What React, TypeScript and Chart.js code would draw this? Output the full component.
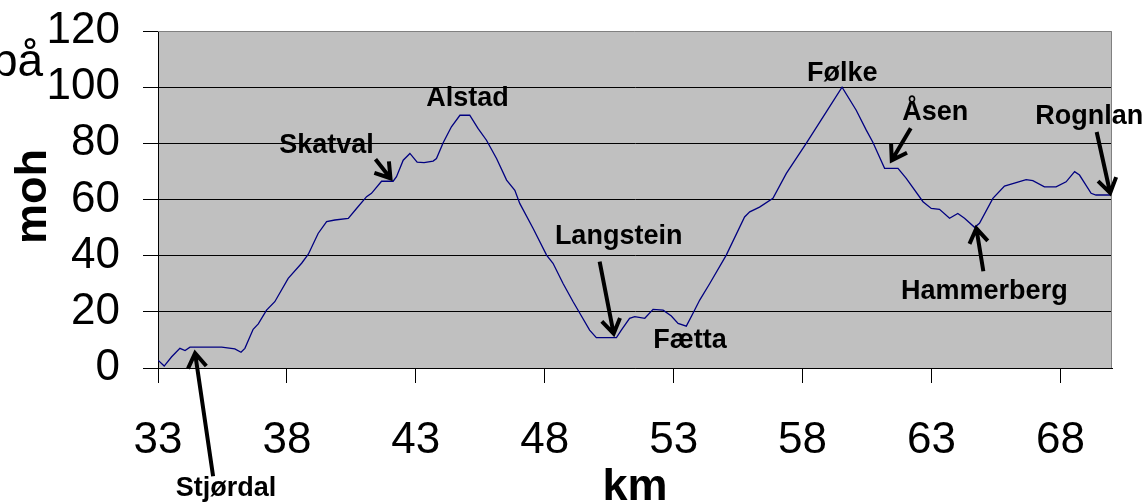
import React, { useEffect, useRef } from "react";
import { Chart, registerables } from "chart.js";

Chart.register(...registerables);

// Elevation profile along the route: distance (km) and height above sea level (moh)
const kmPoints = [
  33.0, 33.24, 33.53, 33.85, 34.05, 34.24, 35.47, 35.98, 36.22, 36.37,
  36.69, 36.89, 37.21, 37.53, 38.05, 38.57, 38.83, 39.21, 39.54, 39.86,
  40.38, 40.7, 41.09, 41.28, 41.67, 42.12, 42.25, 42.51, 42.77, 43.05,
  43.32, 43.67, 43.8, 44.06, 44.38, 44.71, 45.09, 45.41, 45.74, 46.13,
  46.52, 46.84, 47.03, 47.55, 48.07, 48.32, 48.71, 49.1, 49.36, 49.74,
  50.0, 50.78, 50.97, 51.29, 51.49, 51.88, 52.2, 52.59, 52.91, 53.17,
  53.49, 53.75, 54.01, 54.4, 55.04, 55.75, 55.95, 56.33, 56.85, 57.37,
  58.14, 58.92, 59.53, 60.08, 60.47, 60.72, 61.18, 61.7, 62.02, 62.67,
  62.99, 63.31, 63.7, 64.02, 64.28, 64.67, 64.86, 65.38, 65.83, 66.67,
  66.93, 67.38, 67.83, 68.22, 68.55, 68.74, 69.19, 69.38, 69.96,
];
const elevation = [
  2.8, 0.7, 4.0, 7.0, 6.2, 7.4, 7.4, 6.8, 5.6, 7.0,
  13.8, 15.7, 20.6, 23.6, 31.9, 37.3, 40.5, 47.9, 52.1, 52.7,
  53.3, 56.8, 61.0, 62.2, 66.5, 66.5, 68.1, 74.0, 76.4, 73.3,
  73.1, 73.7, 74.6, 80.2, 85.9, 90.0, 90.0, 85.3, 81.1, 74.6,
  66.9, 63.3, 58.6, 49.7, 40.2, 37.3, 30.1, 23.6, 19.5, 13.5,
  10.8, 10.8, 13.5, 17.7, 18.3, 17.7, 20.9, 20.6, 18.5, 15.9,
  14.9, 19.5, 24.2, 30.1, 40.2, 53.8, 55.6, 57.3, 60.4, 69.3,
  80.0, 91.2, 100.0, 91.8, 84.7, 80.5, 71.1, 71.1, 67.5, 59.2,
  56.8, 56.5, 53.3, 55.0, 53.3, 50.1, 51.5, 60.4, 64.8, 67.1,
  66.7, 64.5, 64.5, 66.3, 69.9, 68.7, 62.2, 61.6, 61.6,
];

const xTickValues = [33, 38, 43, 48, 53, 58, 63, 68];
const xMin = 33;
const xMax = 70;
const yMin = 0;
const yMax = 120;
const yStep = 20;

// Named places along the profile
const placeNames = ["Stjørdal", "Skatval", "Alstad", "Langstein", "Fætta", "Følke", "Åsen", "Hammerberg", "Rognlan"];
const placeKm = [34.4, 41.9, 45.0, 50.4, 53.5, 59.5, 61.4, 64.7, 69.6];
const placeElev = [7.4, 66.5, 90.0, 10.8, 14.9, 100.0, 71.1, 50.1, 61.6];

const yTitle = "moh";
const xTitle = "km";
const cornerText = "på";

// Pixel offsets of each place label and its arrow, relative to the place's point
type Offset = [number, number];
const placeLayout: { label: Offset; tail?: Offset; tip?: Offset }[] = [
  { label: [32, 149], tail: [19, 129], tip: [1, 6] },
  { label: [-61, -28], tail: [-12, -22], tip: [3, -3] },
  { label: [0, -9] },
  { label: [12, -94], tail: [-7, -76], tip: [7, -4] },
  { label: [3.5, 22] },
  { label: [1, -6] },
  { label: [45, -48], tail: [20.5, -40], tip: [1.5, -8] },
  { label: [9, 72], tail: [8, 44], tip: [1, 1] },
  { label: [-12.5, -71], tail: [-5, -63], tip: [8.5, -2] },
];

const FONT = "'Liberation Sans', Arial, Helvetica, sans-serif";

function drawArrow(ctx: CanvasRenderingContext2D, x0: number, y0: number, x1: number, y1: number) {
  const ang = Math.atan2(y1 - y0, x1 - x0);
  const head = 17;
  const spread = (33 * Math.PI) / 180;
  ctx.beginPath();
  ctx.moveTo(x0, y0);
  ctx.lineTo(x1, y1);
  ctx.moveTo(x1 - head * Math.cos(ang - spread), y1 - head * Math.sin(ang - spread));
  ctx.lineTo(x1, y1);
  ctx.lineTo(x1 - head * Math.cos(ang + spread), y1 - head * Math.sin(ang + spread));
  ctx.stroke();
}

const plotBackground = {
  id: "plotBackground",
  beforeDraw(chart: any) {
    const { ctx, chartArea: a } = chart;
    ctx.save();
    ctx.fillStyle = "#c0c0c0";
    ctx.fillRect(a.left, a.top, a.right - a.left, a.bottom - a.top);
    ctx.restore();
  },
  beforeDatasetsDraw(chart: any) {
    const { ctx, chartArea: a } = chart;
    ctx.save();
    ctx.strokeStyle = "#808080";
    ctx.lineWidth = 1;
    ctx.beginPath();
    ctx.moveTo(a.left, a.top + 0.5);
    ctx.lineTo(a.right - 0.5, a.top + 0.5);
    ctx.lineTo(a.right - 0.5, a.bottom);
    ctx.stroke();
    ctx.restore();
  },
};

const placeLabels = {
  id: "placeLabels",
  afterDatasetsDraw(chart: any) {
    const { ctx } = chart;
    const xs = chart.scales.x;
    const ys = chart.scales.y;
    ctx.save();
    ctx.fillStyle = "#000";
    ctx.strokeStyle = "#000";
    ctx.lineWidth = 4;
    ctx.lineCap = "butt";
    ctx.lineJoin = "miter";
    ctx.font = `bold 27px ${FONT}`;
    ctx.textAlign = "center";
    ctx.textBaseline = "alphabetic";
    placeNames.forEach((name, i) => {
      const px = xs.getPixelForValue(placeKm[i]);
      const py = ys.getPixelForValue(placeElev[i]);
      const l = placeLayout[i];
      ctx.fillText(name, px + l.label[0], py + l.label[1]);
      if (l.tail && l.tip) {
        drawArrow(ctx, px + l.tail[0], py + l.tail[1], px + l.tip[0], py + l.tip[1]);
      }
    });
    ctx.restore();
  },
  afterDraw(chart: any) {
    const { ctx, chartArea: a } = chart;
    ctx.save();
    ctx.fillStyle = "#000";
    // y-axis title
    ctx.font = `bold 45px ${FONT}`;
    ctx.textAlign = "center";
    ctx.textBaseline = "alphabetic";
    ctx.translate(a.left - 112.5, (a.top + a.bottom) / 2 - 3);
    ctx.rotate(-Math.PI / 2);
    ctx.fillText(yTitle, 0, 0);
    ctx.restore();

    ctx.save();
    ctx.fillStyle = "#000";
    ctx.font = `bold 45px ${FONT}`;
    ctx.textAlign = "center";
    ctx.textBaseline = "alphabetic";
    ctx.fillText(xTitle, (a.left + a.right) / 2, a.bottom + 132);

    ctx.font = `46px ${FONT}`;
    ctx.textAlign = "left";
    ctx.fillText(cornerText, a.left - 166, a.top + 45);
    ctx.restore();
  },
};

export default function App() {
  const canvasRef = useRef<HTMLCanvasElement | null>(null);

  useEffect(() => {
    if (!canvasRef.current) return;
    Chart.defaults.font.family = FONT;
    const chart = new Chart(canvasRef.current, {
      type: "line",
      data: {
        datasets: [
          {
            label: "moh",
            data: kmPoints.map((k, i) => ({ x: k, y: elevation[i] })),
            borderColor: "#000080",
            borderWidth: 1.3,
            pointRadius: 0,
            tension: 0,
            fill: false,
          },
        ],
      },
      options: {
        responsive: false,
        animation: false,
        devicePixelRatio: 1,
        layout: { padding: { left: 0, right: 35, top: 31, bottom: 0 } },
        plugins: {
          legend: { display: false },
          tooltip: { enabled: false },
          title: { display: false },
        },
        scales: {
          x: {
            type: "linear",
            min: xMin,
            max: xMax,
            afterBuildTicks(scale: any) {
              scale.ticks = xTickValues.map((v) => ({ value: v }));
            },
            afterFit(scale: any) {
              scale.height = 135;
              scale.paddingLeft = 0;
              scale.paddingRight = 0;
            },
            grid: {
              drawOnChartArea: false,
              drawTicks: true,
              tickLength: 15,
              tickColor: "#000",
              tickWidth: 1,
            },
            border: { display: true, color: "#000", width: 1 },
            ticks: {
              color: "#000",
              font: { size: 44, family: FONT },
              padding: 31,
              maxRotation: 0,
              autoSkip: false,
            },
          },
          y: {
            min: yMin,
            max: yMax,
            afterFit(scale: any) {
              scale.width = 158;
              scale.paddingTop = 0;
              scale.paddingBottom = 0;
            },
            grid: {
              color: (c: any) => (c.tick && c.tick.value === yMax ? "rgba(0,0,0,0)" : "#000"),
              tickColor: "#000",
              tickLength: 15,
              lineWidth: 1,
            },
            border: { display: true, color: "#000", width: 1 },
            ticks: {
              stepSize: yStep,
              color: "#000",
              font: { size: 44, family: FONT },
              padding: 23,
              autoSkip: false,
            },
          },
        },
      },
      plugins: [plotBackground, placeLabels],
    });
    return () => chart.destroy();
  }, []);

  return (
    <div style={{ position: "absolute", left: 0, top: 0, width: 1147, height: 503, overflow: "hidden" }}>
      <canvas ref={canvasRef} width={1147} height={503} style={{ display: "block" }} />
    </div>
  );
}
